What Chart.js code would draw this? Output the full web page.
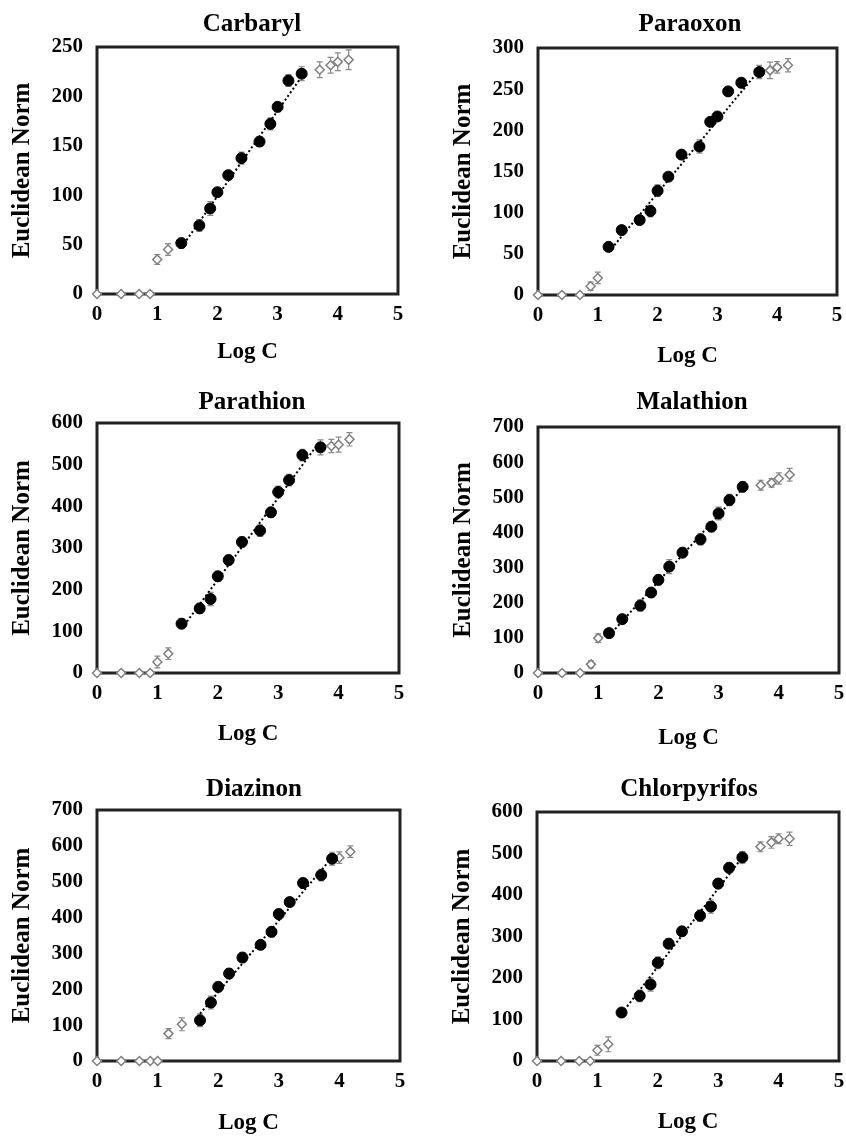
<!DOCTYPE html>
<html>
<head>
<meta charset="utf-8">
<script src="https://cdn.jsdelivr.net/npm/chart.js@4.4.1/dist/chart.umd.min.js"></script>
<style>
  html, body { margin: 0; padding: 0; background: #fff; overflow: hidden; }
  body { width: 846px; height: 1136px; position: relative; }
  .panel { position: absolute; }
</style>
</head>
<body>
<div id="wrap"></div>
<script>
// Log C positions shared by all six compounds
const logC = [0, 0.4, 0.7, 0.88, 1, 1.18, 1.4, 1.7, 1.88, 2, 2.18, 2.4, 2.7, 2.88, 3, 3.18, 3.4, 3.7, 3.88, 4, 4.18];

const titles = ['Carbaryl', 'Paraoxon', 'Parathion', 'Malathion', 'Diazinon', 'Chlorpyrifos'];
const yMax = [250, 300, 600, 700, 700, 600];
const yStep = [50, 50, 100, 100, 100, 100];

// Euclidean norm per point, its error, index range of the fitted (filled) points,
// and the dotted trend line values at the ends of that range
const carbarylNorm = [0, 0, 0, 0, 35, 45, 51.5, 69.4, 86.6, 103, 120.3, 137.5, 154.3, 172.2, 189.4, 216, 223, 227, 231.5, 235, 237];
const carbarylErr = [0, 0, 0, 0, 5, 6, 5, 6, 7, 4, 4, 6, 5, 6, 5, 6, 7, 8, 8, 9, 10];
const carbarylFit = [6, 16];
const carbarylTrend = [47, 220];

const paraoxonNorm = [0, 0, 0, 10.6, 20.7, 58.5, 78.8, 91, 102, 126.7, 143.7, 170.5, 180.3, 210.3, 216.8, 247.3, 257.8, 270.8, 272.8, 276.5, 279];
const paraoxonErr = [0, 0, 0, 5, 7, 5, 4, 5, 7, 7, 4, 4, 8, 5, 5, 4, 6, 8, 10, 7, 8];
const paraoxonFit = [5, 17];
const paraoxonTrend = [52, 273];

const parathionNorm = [0, 0, 0, 0, 26.4, 46.4, 118.4, 155, 177.6, 232, 271, 314.4, 341.6, 385.6, 434.4, 463, 523, 541.6, 544.8, 548, 560.8];
const parathionErr = [0, 0, 0, 0, 14, 14, 12, 12, 16, 12, 12, 12, 14, 12, 14, 14, 14, 18, 16, 18, 16];
const parathionFit = [6, 17];
const parathionTrend = [106, 558];

const malathionNorm = [0, 0, 0, 24.6, 99.3, 113.5, 153.3, 192, 229, 265, 302.7, 342.5, 380.3, 416.3, 454, 492, 529.8, 534.5, 541, 553.5, 564];
const malathionErr = [0, 0, 0, 10, 12, 10, 10, 16, 12, 14, 20, 14, 16, 14, 18, 16, 14, 14, 12, 16, 18];
const malathionFit = [5, 16];
const malathionTrend = [106, 525];

const diazinonNorm = [0, 0, 0, 0, 0, 76.4, 102.4, 113.6, 163, 206.7, 244, 288.6, 324, 360.3, 409.7, 443.2, 496.3, 518.6, 564.2, 567, 583.8];
const diazinonErr = [0, 0, 0, 0, 0, 14, 18, 18, 18, 14, 14, 14, 12, 14, 14, 12, 14, 16, 18, 16, 16];
const diazinonFit = [7, 18];
const diazinonTrend = [132, 568];

const chlorpyrifosNorm = [0, 0, 0, 0, 25.8, 40.3, 116.8, 157, 184.4, 236.8, 282.7, 312.5, 350.3, 372, 427.6, 465.5, 490.5, 516.2, 526.7, 535.6, 535.6];
const chlorpyrifosErr = [0, 0, 0, 0, 12, 18, 8, 14, 16, 14, 12, 10, 14, 16, 12, 12, 14, 12, 14, 12, 16];
const chlorpyrifosFit = [6, 16];
const chlorpyrifosTrend = [114, 491];

const panels = [
    { norm: carbarylNorm, err: carbarylErr, fit: carbarylFit, trend: carbarylTrend },
    { norm: paraoxonNorm, err: paraoxonErr, fit: paraoxonFit, trend: paraoxonTrend },
    { norm: parathionNorm, err: parathionErr, fit: parathionFit, trend: parathionTrend },
    { norm: malathionNorm, err: malathionErr, fit: malathionFit, trend: malathionTrend },
    { norm: diazinonNorm, err: diazinonErr, fit: diazinonFit, trend: diazinonTrend },
    { norm: chlorpyrifosNorm, err: chlorpyrifosErr, fit: chlorpyrifosFit, trend: chlorpyrifosTrend }
];

// Page placement of each plot frame (pixels)
const frames = [
    { L: 97, R: 398, T: 47, B: 294, titleX: 252, titleY: 25, xTitleY: 352 },
    { L: 538, R: 837, T: 48, B: 295, titleX: 690, titleY: 25, xTitleY: 356 },
    { L: 97, R: 399, T: 423, B: 673, titleX: 252, titleY: 403, xTitleY: 734 },
    { L: 538, R: 839, T: 427, B: 673, titleX: 692, titleY: 403, xTitleY: 738 },
    { L: 97, R: 400, T: 810, B: 1061, titleX: 254, titleY: 790, xTitleY: 1123 },
    { L: 537, R: 839, T: 812, B: 1061, titleX: 689, titleY: 790, xTitleY: 1122 }
];

const serif = "'Liberation Serif', 'Times New Roman', serif";
const Y_AXIS_W = 97;
const TITLE_SIZE = 25;

function makePanel(p, i) {
    const f = frames[i];
    const cx = f.L - Y_AXIS_W;
    const w = 2 * (f.titleX - cx);
    const cy = f.titleY - 30;
    const h = f.xTitleY + 20 - cy;

    const div = document.createElement('div');
    div.className = 'panel';
    div.style.left = cx + 'px';
    div.style.top = cy + 'px';
    const canvas = document.createElement('canvas');
    canvas.width = w;
    canvas.height = h;
    canvas.style.width = w + 'px';
    canvas.style.height = h + 'px';
    div.appendChild(canvas);
    document.getElementById('wrap').appendChild(div);

    const open = [], filled = [];
    logC.forEach((x, k) => {
        const pt = { x: x, y: p.norm[k] };
        if (k >= p.fit[0] && k <= p.fit[1]) filled.push(pt); else open.push(pt);
    });

    // frame + error bars, drawn under the markers
    const decor = {
        id: 'decor' + i,
        beforeDatasetsDraw(chart) {
            const { ctx, chartArea: a, scales: { x, y } } = chart;
            ctx.save();
            ctx.strokeStyle = '#222';
            ctx.lineWidth = 3;
            ctx.strokeRect(a.left, a.top, a.right - a.left, a.bottom - a.top);

            ctx.strokeStyle = '#8a8a8a';
            ctx.lineWidth = 1.2;
            p.err.forEach((e, k) => {
                if (!e) return;
                const px = x.getPixelForValue(logC[k]);
                const top = y.getPixelForValue(p.norm[k] + e);
                const bot = y.getPixelForValue(p.norm[k] - e);
                ctx.beginPath();
                ctx.moveTo(px, top); ctx.lineTo(px, bot);
                ctx.moveTo(px - 3, top); ctx.lineTo(px + 3, top);
                ctx.moveTo(px - 3, bot); ctx.lineTo(px + 3, bot);
                ctx.stroke();
            });
            ctx.restore();
        }
    };

    new Chart(canvas, {
        type: 'scatter',
        data: {
            datasets: [
                {
                    label: 'fitted',
                    data: filled,
                    pointStyle: 'circle',
                    pointRadius: 5.5,
                    backgroundColor: '#000',
                    borderColor: '#000',
                    borderWidth: 1,
                    clip: false
                },
                {
                    label: 'outside range',
                    data: open,
                    pointStyle: 'rectRot',
                    pointRadius: 4.5,
                    backgroundColor: '#fff',
                    borderColor: '#7f7f7f',
                    borderWidth: 1.5,
                    clip: false
                },
                {
                    label: 'trend',
                    data: [
                        { x: logC[p.fit[0]], y: p.trend[0] },
                        { x: logC[p.fit[1]], y: p.trend[1] }
                    ],
                    showLine: true,
                    pointRadius: 0,
                    borderColor: '#000',
                    borderWidth: 2,
                    borderDash: [2, 2.5],
                    clip: false
                }
            ]
        },
        options: {
            responsive: false,
            animation: false,
            layout: { padding: 0 },
            plugins: {
                legend: { display: false },
                tooltip: { enabled: false },
                title: {
                    display: true,
                    text: titles[i],
                    color: '#000',
                    font: { family: serif, size: TITLE_SIZE, weight: 'bold', lineHeight: 1 },
                    padding: { top: 30 - TITLE_SIZE / 2, bottom: f.T - f.titleY - TITLE_SIZE / 2 }
                }
            },
            scales: {
                x: {
                    type: 'linear',
                    min: 0,
                    max: 5,
                    grid: { display: false, drawTicks: false },
                    border: { display: false },
                    ticks: {
                        stepSize: 1,
                        padding: 7.5,
                        maxRotation: 0,
                        color: '#000',
                        font: { family: serif, size: 21, weight: 'bold' }
                    },
                    title: {
                        display: true,
                        text: 'Log C',
                        color: '#000',
                        font: { family: serif, size: 23, weight: 'bold', lineHeight: 1 },
                        padding: { top: 0, bottom: 8.5 }
                    },
                    afterFit: s => { s.height = h - (f.B - cy); }
                },
                y: {
                    type: 'linear',
                    min: 0,
                    max: yMax[i],
                    grid: { display: false, drawTicks: false },
                    border: { display: false },
                    ticks: {
                        stepSize: yStep[i],
                        padding: 14,
                        color: '#000',
                        font: { family: serif, size: 21, weight: 'bold' }
                    },
                    title: {
                        display: true,
                        text: 'Euclidean Norm',
                        color: '#000',
                        font: { family: serif, size: 25, weight: 'bold', lineHeight: 1 },
                        padding: { top: 10.5, bottom: 0 }
                    },
                    afterFit: s => { s.width = Y_AXIS_W; }
                },
                // empty right-hand axis, only reserves space so the title centres like the original
                yPad: {
                    type: 'linear',
                    position: 'right',
                    grid: { display: false, drawTicks: false },
                    border: { display: false },
                    ticks: { display: false },
                    afterFit: s => { s.width = cx + w - f.R; }
                }
            }
        },
        plugins: [decor]
    });
}

panels.forEach(makePanel);
</script>
</body>
</html>
